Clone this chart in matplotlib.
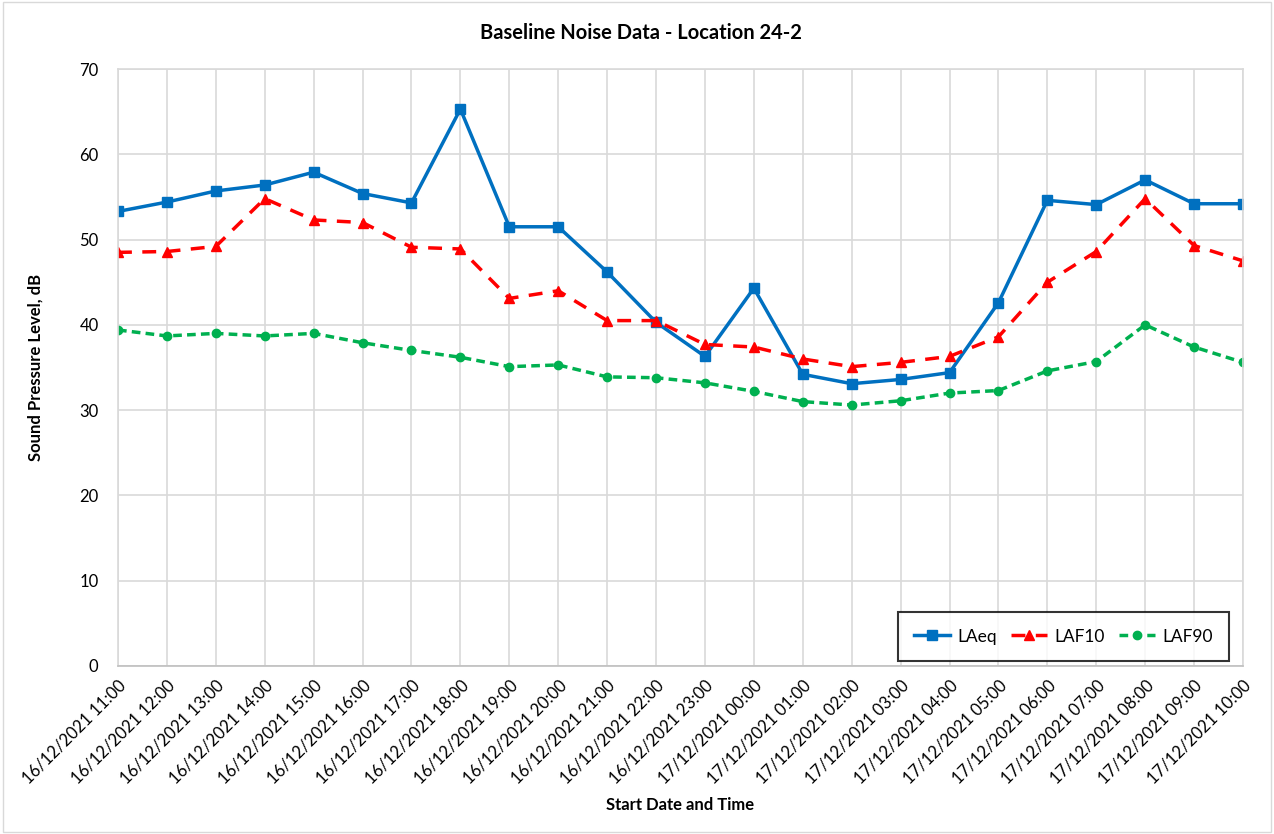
import numpy as np
import matplotlib
matplotlib.use("Agg")
import matplotlib.pyplot as plt
from matplotlib.patches import Rectangle

plt.rcParams['font.family'] = ['Lato', 'DejaVu Sans']

times = ["16/12/2021 11:00", "16/12/2021 12:00", "16/12/2021 13:00", "16/12/2021 14:00",
         "16/12/2021 15:00", "16/12/2021 16:00", "16/12/2021 17:00", "16/12/2021 18:00",
         "16/12/2021 19:00", "16/12/2021 20:00", "16/12/2021 21:00", "16/12/2021 22:00",
         "16/12/2021 23:00", "17/12/2021 00:00", "17/12/2021 01:00", "17/12/2021 02:00",
         "17/12/2021 03:00", "17/12/2021 04:00", "17/12/2021 05:00", "17/12/2021 06:00",
         "17/12/2021 07:00", "17/12/2021 08:00", "17/12/2021 09:00", "17/12/2021 10:00"]

laeq = [53.3, 54.4, 55.7, 56.4, 57.9, 55.4, 54.3, 65.3, 51.5, 51.5, 46.2, 40.3,
        36.3, 44.3, 34.2, 33.1, 33.6, 34.4, 42.6, 54.6, 54.1, 57.0, 54.2, 54.2]
laf10 = [48.5, 48.6, 49.2, 54.8, 52.3, 52.0, 49.1, 48.9, 43.1, 44.0, 40.5, 40.5,
         37.7, 37.4, 36.0, 35.1, 35.6, 36.3, 38.6, 45.0, 48.6, 54.8, 49.3, 47.5]
laf90 = [39.4, 38.7, 39.0, 38.7, 39.0, 37.9, 37.0, 36.2, 35.1, 35.3, 33.9, 33.8,
         33.2, 32.2, 31.0, 30.6, 31.1, 32.0, 32.3, 34.6, 35.7, 40.0, 37.4, 35.6]

x = np.arange(len(times))

fig = plt.figure(figsize=(12.74, 8.34), dpi=100)
ax = fig.add_axes([118/1274, 1-666/834, (1243-118)/1274, (666-69)/834])

ax.plot(x, laeq, color='#0070C0', lw=2.5, marker='s', ms=6.5, label='LAeq')
ax.plot(x, laf10, color='#FF0000', lw=2.5, ls=(0, (4, 3)), marker='^', ms=7.5, label='LAF10')
ax.plot(x, laf90, color='#00B050', lw=2.5, ls=(0, (2.5, 1.5)), marker='o', ms=6, label='LAF90')

ax.set_xlim(0, len(times) - 1)
ax.set_ylim(0, 70)
ax.set_yticks(np.arange(0, 71, 10))
ax.set_xticks(x)
ax.set_xticklabels(times, rotation=45, ha='right', rotation_mode='anchor', fontsize=12)
ax.tick_params(axis='both', length=0, labelsize=12, colors='#000000')
ax.tick_params(axis='x', pad=8)
ax.tick_params(axis='y', pad=14)
ax.grid(True, color='#D9D9D9', lw=1.2)
ax.set_axisbelow(True)
for s in ax.spines.values():
    s.set_color('#D9D9D9')
    s.set_linewidth(1.2)
ax.spines['bottom'].set_color('#BFBFBF')

ax.set_ylabel('Sound Pressure Level, dB', fontsize=12, fontweight='bold', labelpad=26)
ax.set_xlabel('Start Date and Time', fontsize=12, fontweight='bold')
ax.xaxis.set_label_coords(0.5, (666-797)/(666-69))
fig.text(641/1274, 1-33/834, 'Baseline Noise Data - Location 24-2', fontsize=14.5,
         fontweight='bold', ha='center', va='center')

leg = ax.legend(loc='lower right', ncol=3, fontsize=12.5, frameon=True, fancybox=False,
                edgecolor='black', handlelength=2.1, columnspacing=0.8, handletextpad=0.4,
                borderpad=0.95, borderaxespad=0,
                bbox_to_anchor=(1229/1274, 1-661/834), bbox_transform=fig.transFigure)
leg.get_frame().set_linewidth(1.5)

fig.patches.append(Rectangle((0.002, 0.002), 0.996, 0.996, transform=fig.transFigure,
                             fill=False, edgecolor='#D9D9D9', lw=1))

fig.savefig('out.png', dpi=100)
